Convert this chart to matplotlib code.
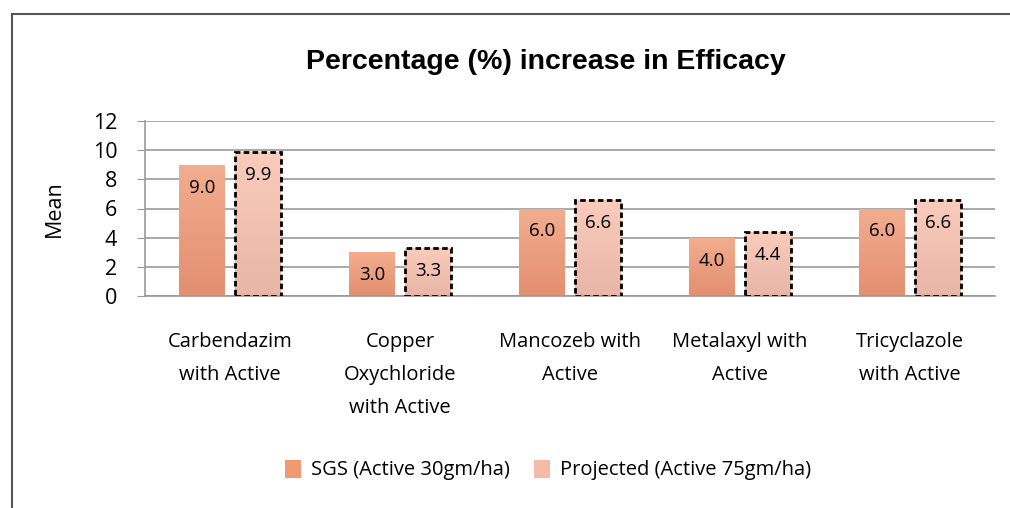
import matplotlib.pyplot as plt
import numpy as np
from matplotlib.lines import Line2D
from matplotlib.patches import Patch

# данные с графика
categories = ['Carbendazim\nwith Active', 'Copper\nOxychloride\nwith Active',
              'Mancozeb with\nActive', 'Metalaxyl with\nActive', 'Tricyclazole\nwith Active']
sgs = [9.0, 3.0, 6.0, 4.0, 6.0]
projected = [9.9, 3.3, 6.6, 4.4, 6.6]
series_names = ['SGS (Active 30gm/ha)', 'Projected (Active 75gm/ha)']
yticks = [0, 2, 4, 6, 8, 10, 12]

body_font = ['Open Sans', 'DejaVu Sans']
fig = plt.figure(figsize=(10.1, 5.08), dpi=100)
ax = fig.add_axes([145 / 1010, 1 - 296 / 508, 850 / 1010, 175 / 508])

x = np.arange(len(categories))
w = 0.27
off = 0.165


def grad_bar(ax, xc, h, top, bottom, **kw):
    bar = ax.bar(xc, h, w, color='none', zorder=3, **kw)[0]
    g = np.linspace(0, 1, 100).reshape(-1, 1)
    cols = np.array(top)[None, None, :] * (1 - g[..., None]) + np.array(bottom)[None, None, :] * g[..., None]
    im = ax.imshow(cols, extent=[xc - w / 2, xc + w / 2, 0, h], aspect='auto', zorder=2.5, origin='upper')
    im.set_clip_path(bar)
    return bar


for i in x:
    grad_bar(ax, i - off, sgs[i], (0.95, 0.68, 0.56), (0.89, 0.56, 0.44), linewidth=0)
    grad_bar(ax, i + off, projected[i], (0.98, 0.80, 0.74), (0.91, 0.71, 0.65),
             edgecolor='black', linewidth=2, linestyle=(0, (2, 1.2)))
    for xc, v in [(i - off, sgs[i]), (i + off, projected[i])]:
        ax.annotate(f'{v:.1f}', (xc, v), xytext=(0, -23), textcoords='offset pixels',
                    ha='center', va='center', fontsize=13.5, family=body_font, zorder=5)

ax.set_xlim(-0.5, len(categories) - 0.5)
ax.set_ylim(0, 12)
ax.set_yticks(yticks)
ax.set_yticklabels([str(t) for t in yticks], family=body_font, fontsize=15.5)
ax.yaxis.grid(True, color='#999999', linewidth=1.2)
ax.set_axisbelow(True)
ax.tick_params(axis='y', length=6, color='#999999', pad=14)
ax.tick_params(axis='x', length=0, pad=26)
ax.set_xticks(x)
ax.set_xticklabels(categories, family=body_font, fontsize=14.5, va='top', linespacing=1.85)
for s in ['top', 'right']:
    ax.spines[s].set_visible(False)
for s in ['left', 'bottom']:
    ax.spines[s].set_color('#999999')
    ax.spines[s].set_linewidth(1.2)
ax.set_ylabel('Mean', family=body_font, fontsize=15.5, labelpad=20)

fig.text(546 / 1010, 1 - 62 / 508, 'Percentage (%) increase in Efficacy',
         ha='center', va='center', fontsize=20.5, fontweight='bold', family='Liberation Sans')

handles = [Patch(facecolor='#f09a74'), Patch(facecolor='#f5bba8')]
fig.legend(handles, series_names, loc='center', bbox_to_anchor=(548 / 1010, 1 - 470 / 508),
           ncol=2, frameon=False, prop={'family': body_font, 'size': 14.5},
           handlelength=0.8, handleheight=1.0, columnspacing=1.2, handletextpad=0.5)

# рамка вокруг диаграммы
fig.add_artist(Line2D([12 / 1010, 1], [1 - 14 / 508, 1 - 14 / 508], color='#555555', linewidth=1.5))
fig.add_artist(Line2D([12 / 1010, 12 / 1010], [0, 1 - 14 / 508], color='#555555', linewidth=1.5))

fig.savefig('out.png', dpi=100)
